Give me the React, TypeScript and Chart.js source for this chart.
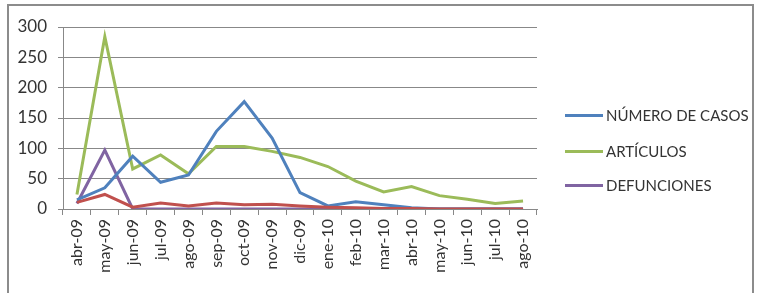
import React, { useEffect, useRef } from "react";
import { Chart, registerables } from "chart.js";

Chart.register(...registerables);

const categories = [
  "abr-09", "may-09", "jun-09", "jul-09", "ago-09", "sep-09", "oct-09", "nov-09",
  "dic-09", "ene-10", "feb-10", "mar-10", "abr-10", "may-10", "jun-10", "jul-10", "ago-10",
];
const numeroDeCasos = [15, 35, 87, 44, 56, 128, 177, 117, 27, 5, 12, 7, 2, 0, 0, 0, 0];
const articulos = [24, 284, 66, 89, 58, 103, 103, 95, 85, 70, 46, 28, 37, 22, 16, 9, 13];
const defunciones = [9, 97, 0, 0, 0, 0, 0, 0, 0, 0, 0, 0, 0, 0, 0, 0, 0];
const otraSerie = [11, 24, 3, 10, 5, 10, 7, 8, 5, 3, 2, 1, 1, 0, 0, 0, 0];
const yTicks = [0, 50, 100, 150, 200, 250, 300];

const legendItems = [
  { label: "NÚMERO DE CASOS", color: "#4F81BD" },
  { label: "ARTÍCULOS", color: "#9BBB59" },
  { label: "DEFUNCIONES", color: "#8064A2" },
];

export default function App() {
  const ref = useRef<HTMLCanvasElement | null>(null);
  useEffect(() => {
    if (!ref.current) return;
    const mk = (label: string, data: number[], color: string) => ({
      label,
      data,
      borderColor: color,
      backgroundColor: color,
      borderWidth: 3,
      pointRadius: 0,
      tension: 0,
      fill: false,
    });
    const chart = new Chart(ref.current, {
      type: "line",
      data: {
        labels: categories,
        datasets: [
          mk("", otraSerie, "#C0504D"),
          mk("NÚMERO DE CASOS", numeroDeCasos, "#4F81BD"),
          mk("ARTÍCULOS", articulos, "#9BBB59"),
          mk("DEFUNCIONES", defunciones, "#8064A2"),
        ],
      },
      options: {
        animation: false,
        responsive: false,
        maintainAspectRatio: false,
        layout: { padding: { left: 0, right: 221, top: 27, bottom: 0 } },
        plugins: { legend: { display: false }, tooltip: { enabled: false } },
        scales: {
          x: {
            offset: true,
            afterFit: (s: any) => { s.height = 84; },
            grid: {
              offset: true,
              drawOnChartArea: false,
              drawTicks: true,
              tickLength: 6,
              color: "#888888",
            },
            border: { display: true, color: "#888888", width: 1 },
            ticks: {
              maxRotation: 90,
              minRotation: 90,
              autoSkip: false,
              padding: 4,
              color: "#333333",
              font: { family: "Lato", size: 16 },
            },
          },
          y: {
            min: 0,
            max: 300,
            afterFit: (s: any) => { s.width = 63; },
            afterBuildTicks: (s: any) => { s.ticks = yTicks.map((v) => ({ value: v })); },
            grid: { color: "#888888", tickLength: 5, lineWidth: 1 },
            border: { display: true, color: "#888888", width: 1 },
            ticks: {
              padding: 11,
              color: "#333333",
              font: { family: "Lato", size: 17 },
            },
          },
        },
      },
    });
    return () => chart.destroy();
  }, []);

  return (
    <div style={{ position: "absolute", left: 0, top: 0, width: 758, height: 293, overflow: "hidden", background: "#fff" }}>
      <div
        style={{
          position: "absolute",
          left: 7,
          top: 4,
          width: 747,
          height: 300,
          border: "2px solid #8c8c8c",
          boxSizing: "border-box",
        }}
      />
      <canvas ref={ref} width={758} height={293} style={{ position: "absolute", left: 0, top: 0 }} />
      {legendItems.map((it, i) => (
        <div
          key={it.label}
          style={{
            position: "absolute",
            left: 565,
            top: [115, 151, 185][i] - 10,
            height: 20,
            display: "flex",
            alignItems: "center",
            fontFamily: "Lato",
            fontSize: 15,
            color: "#333",
            whiteSpace: "nowrap",
          }}
        >
          <span style={{ display: "inline-block", width: 38, height: 3, background: it.color, marginRight: 3 }} />
          <span>{it.label}</span>
        </div>
      ))}
    </div>
  );
}
